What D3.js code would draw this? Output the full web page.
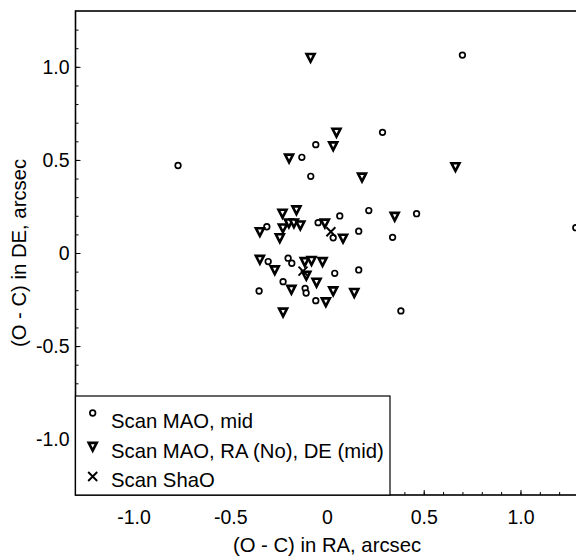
<!DOCTYPE html>
<html>
<head>
<meta charset="utf-8">
<script src="https://cdn.jsdelivr.net/npm/d3@7"></script>
<style>
  body { margin: 0; background: #fff; }
  text { font-family: "Liberation Sans", Arial, sans-serif; fill: #000; }
</style>
</head>
<body>
<script>
// Scan MAO, mid (circles)
var maoRA = [-0.77, 0.70, 0.287, -0.058, -0.130, -0.084, 0.066, 0.216, 0.463, -0.311,
             -0.046, 0.032, 0.164, 0.339, -0.304, -0.201, -0.182, 0.040, 0.164, -0.227,
             -0.113, -0.108, -0.351, -0.058, 0.382, 1.286];
var maoDE = [0.47, 1.063, 0.648, 0.582, 0.514, 0.412, 0.199, 0.228, 0.211, 0.141,
             0.163, 0.082, 0.117, 0.084, -0.046, -0.028, -0.055, -0.109, -0.091, -0.154,
             -0.190, -0.215, -0.204, -0.256, -0.311, 0.136];

// Scan MAO, RA (No), DE (mid) (triangles)
var triRA = [-0.085, 0.049, 0.032, -0.196, 0.181, 0.664, -0.230, -0.158, 0.350, -0.347,
             -0.228, -0.197, -0.171, -0.138, -0.244, -0.011, 0.083, -0.347, -0.270, -0.115,
             -0.080, -0.023, -0.107, -0.054, -0.184, 0.032, 0.141, -0.006, -0.227];
var triDE = [1.05, 0.648, 0.575, 0.509, 0.407, 0.463, 0.213, 0.231, 0.196, 0.114,
             0.134, 0.161, 0.161, 0.150, 0.081, 0.160, 0.079, -0.035, -0.091, -0.047,
             -0.041, -0.047, -0.121, -0.158, -0.196, -0.204, -0.213, -0.263, -0.318];

// Scan ShaO (crosses)
var shaRA = [0.020, -0.124];
var shaDE = [0.114, -0.097];

var xTicks = [-1.0, -0.5, 0, 0.5, 1.0];
var xTickLabels = ["-1.0", "-0.5", "0", "0.5", "1.0"];
var yTicks = [-1.0, -0.5, 0, 0.5, 1.0];
var yTickLabels = ["-1.0", "-0.5", "0", "0.5", "1.0"];
var minorTicks = d3.range(-12, 13).map(function(i){ return i / 10; });

var legendNames = ["Scan MAO, mid", "Scan MAO, RA (No), DE (mid)", "Scan ShaO"];

var width = 576, height = 556;
var box = {left: 75.5, right: 578.5, top: 11, bottom: 495};

var svg = d3.select("body").append("svg")
    .attr("width", width)
    .attr("height", height);

var x = d3.scaleLinear().domain([-1.3, 1.3]).range([box.left, box.right]);
var y = d3.scaleLinear().domain([-1.3, 1.3]).range([box.bottom, box.top]);

var fontSize = 20.3;
var tickFont = 19.5;

// minor ticks
svg.append("g")
    .attr("transform", "translate(0," + box.bottom + ")")
    .call(d3.axisBottom(x).tickValues(minorTicks).tickSize(-3).tickFormat(""))
    .call(function(g){ g.select(".domain").remove(); });
svg.append("g")
    .attr("transform", "translate(" + box.left + ",0)")
    .call(d3.axisLeft(y).tickValues(minorTicks).tickSize(-3).tickFormat(""))
    .call(function(g){ g.select(".domain").remove(); });

// major ticks
var xAxis = svg.append("g")
    .attr("transform", "translate(0," + box.bottom + ")")
    .call(d3.axisBottom(x).tickValues(xTicks).tickSize(-5).tickPadding(15)
        .tickFormat(function(d, i){ return xTickLabels[i]; }));
xAxis.select(".domain").remove();
xAxis.selectAll("text").style("font-size", tickFont + "px").style("font-family", "Liberation Sans, Arial, sans-serif");

var yAxis = svg.append("g")
    .attr("transform", "translate(" + box.left + ",0)")
    .call(d3.axisLeft(y).tickValues(yTicks).tickSize(-5).tickPadding(6)
        .tickFormat(function(d, i){ return yTickLabels[i]; }));
yAxis.select(".domain").remove();
yAxis.selectAll("text").style("font-size", tickFont + "px").style("font-family", "Liberation Sans, Arial, sans-serif");

// frame
svg.append("rect")
    .attr("x", box.left).attr("y", box.top)
    .attr("width", box.right - box.left).attr("height", box.bottom - box.top)
    .attr("fill", "none").attr("stroke", "#000").attr("stroke-width", 1.6);

// markers
var triPath = "M-4,-3.6L4,-3.6L0,4.2Z";

function drawCircle(g, cx, cy) {
    g.append("circle").attr("cx", cx).attr("cy", cy).attr("r", 2.8)
        .attr("fill", "#fff").attr("stroke", "#000").attr("stroke-width", 1.7);
}
function drawTri(g, cx, cy) {
    g.append("path").attr("d", triPath)
        .attr("transform", "translate(" + cx + "," + cy + ")")
        .attr("fill", "#fff").attr("stroke", "#000").attr("stroke-width", 2.6)
        .attr("stroke-linejoin", "miter");
}
function drawCross(g, cx, cy) {
    g.append("path").attr("d", "M-4.5,-4.5L4.5,4.5M-4.5,4.5L4.5,-4.5")
        .attr("transform", "translate(" + cx + "," + cy + ")")
        .attr("stroke", "#000").attr("stroke-width", 1.9).attr("fill", "none");
}

var marks = svg.append("g");
maoRA.forEach(function(d, i){ drawCircle(marks, x(d), y(maoDE[i])); });
triRA.forEach(function(d, i){ drawTri(marks, x(d), y(triDE[i])); });
shaRA.forEach(function(d, i){ drawCross(marks, x(d), y(shaDE[i])); });

// legend
var leg = svg.append("g");
leg.append("rect")
    .attr("x", box.left).attr("y", 396)
    .attr("width", 390 - box.left).attr("height", box.bottom - 396)
    .attr("fill", "#fff").attr("stroke", "#000").attr("stroke-width", 1.2);

var rowY = [427.5, 457.5, 487];
drawCircle(leg, 92.7, rowY[0] - 14.5);
drawTri(leg, 92.7, rowY[1] - 11);
drawCross(leg, 92.7, rowY[2] - 10.5);
legendNames.forEach(function(name, i){
    leg.append("text")
        .attr("x", 111).attr("y", rowY[i])
        .style("font-size", fontSize + "px")
        .text(name);
});

// axis titles
svg.append("text")
    .attr("x", (box.left + box.right) / 2).attr("y", 552)
    .attr("text-anchor", "middle")
    .style("font-size", fontSize + "px")
    .text("(O - C) in RA, arcsec");

svg.append("text")
    .attr("transform", "translate(26," + y(0) + ") rotate(-90)")
    .attr("text-anchor", "middle")
    .style("font-size", fontSize + "px")
    .text("(O - C) in DE, arcsec");
</script>
</body>
</html>
